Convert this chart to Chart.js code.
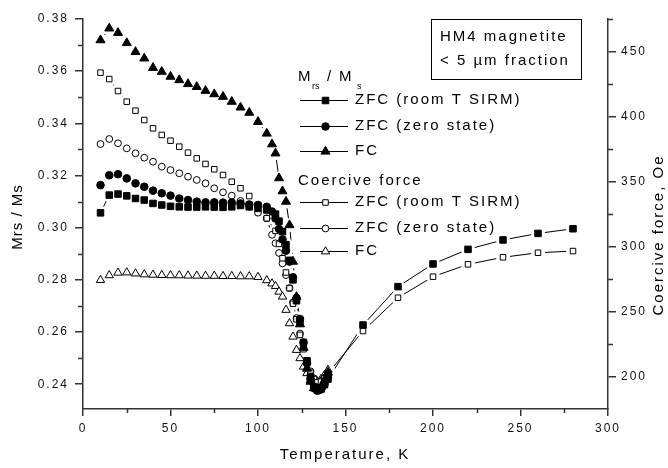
<!DOCTYPE html>
<html><head><meta charset="utf-8">
<script src="https://cdn.jsdelivr.net/npm/chart.js@4.4.1/dist/chart.umd.min.js"></script>
<style>html,body{margin:0;padding:0;background:#fff;}#wrap{width:668px;height:468px;position:relative;}</style>
</head><body><div id="wrap"><canvas id="c" width="668" height="468"></canvas></div>
<script>
const FONT = "'Liberation Sans', Arial, Helvetica, sans-serif";

// ---- data ----
const tempZfcRoom = [10,15,20,25,30,35,40,45,50,55,60,65,70,75,80,85,90,95,100,105,110,112,114,116,118,120,122,124,126,128,130,132,134,136,138,140,160,180,200,220,240,260,280];
const mrsZfcRoom = [0.3057,0.3125,0.3129,0.3122,0.3112,0.3106,0.3093,0.3087,0.3082,0.3080,0.3079,0.3079,0.3080,0.3079,0.3078,0.3080,0.3085,0.3080,0.3074,0.3068,0.3052,0.3025,0.2985,0.2935,0.2875,0.2800,0.2720,0.2640,0.2560,0.2490,0.2430,0.2390,0.2378,0.2382,0.2398,0.2420,0.2627,0.2774,0.2861,0.2917,0.2953,0.2978,0.2996];
const hcZfcRoom = [433.7,428.8,419.6,411.4,404.5,397.3,390.9,385.8,381.4,376.8,372.2,367.8,363.5,359.4,355.0,349.8,344.8,338.8,331.9,321.7,312.0,302.0,291.0,280.0,268.0,256.0,244.0,232.0,221.0,211.0,203.0,198.0,195.5,196.0,198.5,202.5,235.0,260.6,276.8,286.3,291.7,295.2,296.5];

const tempZfcZero = [10,15,20,25,30,35,40,45,50,55,60,65,70,75,80,85,90,95,100,105,108,110,112,114,116,118,120,122,124,126,128,130,132,134,136,138,140];
const mrsZfcZero = [0.3163,0.3201,0.3205,0.3189,0.3170,0.3157,0.3142,0.3132,0.3123,0.3112,0.3106,0.3100,0.3097,0.3097,0.3096,0.3096,0.3093,0.3089,0.3087,0.3080,0.3062,0.3035,0.2995,0.2955,0.2912,0.2870,0.2810,0.2730,0.2650,0.2560,0.2480,0.2420,0.2385,0.2375,0.2380,0.2400,0.2425];
const hcZfcZero = [378.8,382.7,379.4,375.5,371.7,368.3,365.2,361.4,358.8,356.3,353.7,351.2,348.6,344.8,341.7,339.1,335.0,330.6,326.0,321.7,309.0,302.5,295.0,287.0,278.0,268.0,257.0,245.0,233.0,222.0,212.0,204.0,198.5,196.0,196.5,199.0,202.0];

const tempFC = [10,15,20,25,30,35,40,45,50,55,60,65,70,75,80,85,90,95,100,105,108,110,112,114,116,118,120,122,124,126,128,130,132,134,136,138,140];
const mrsFC = [0.3719,0.3764,0.3747,0.3708,0.3674,0.3649,0.3613,0.3598,0.3579,0.3566,0.3551,0.3540,0.3525,0.3512,0.3502,0.3483,0.3461,0.3441,0.3406,0.3361,0.3320,0.3285,0.3190,0.3140,0.3100,0.3010,0.2870,0.2735,0.2630,0.2540,0.2460,0.2410,0.2385,0.2380,0.2390,0.2415,0.2445];
const hcFC = [274.2,277.8,279.8,280.0,279.2,278.5,278.2,278.0,277.8,277.8,277.6,277.5,277.4,277.4,277.2,277.2,277.0,277.0,276.5,274.0,271.5,269.5,265.2,261.4,251.2,240.9,230.6,220.4,214.0,207.5,202.5,197.3,195.5,196.0,198.0,201.0,205.0];

const xTicks = [0,50,100,150,200,250,300];
const xMinorTicks = [25,75,125,175,225,275];
const leftTicks = [0.24,0.26,0.28,0.30,0.32,0.34,0.36,0.38];
const leftMinorTicks = [0.25,0.27,0.29,0.31,0.33,0.35,0.37];
const rightTicks = [200,250,300,350,400,450];
const rightMinorTicks = [225,275,325,375,425,475];

const seriesLabels = ['ZFC (room T SIRM)','ZFC (zero state)','FC'];
const groupTitles = ['Coercive force'];
const boxLines = ['HM4 magnetite','< 5 \u00b5m fraction'];
const axisTitles = {x:'Temperature, K', left:'Mrs / Ms', right:'Coercive force, Oe'};

const AXIS = '#333';
const pts = (xs, ys) => xs.map((x,i)=>({x, y: ys[i]}));

const styles = [
  {pointStyle:'rect', pointRadius:4.6, fill:'#000'},
  {pointStyle:'circle', pointRadius:3.8, fill:'#000'},
  {pointStyle:'triangle', pointRadius:5.2, fill:'#000'},
  {pointStyle:'rect', pointRadius:3.9, fill:'#fff'},
  {pointStyle:'circle', pointRadius:3.4, fill:'#fff'},
  {pointStyle:'triangle', pointRadius:4.8, fill:'#fff'}
];

const series = [
  {data: pts(tempZfcRoom, mrsZfcRoom), axis:'y'},
  {data: pts(tempZfcZero, mrsZfcZero), axis:'y'},
  {data: pts(tempFC, mrsFC), axis:'y'},
  {data: pts(tempZfcRoom, hcZfcRoom), axis:'y1'},
  {data: pts(tempZfcZero, hcZfcZero), axis:'y1'},
  {data: pts(tempFC, hcFC), axis:'y1'}
];

const datasets = [];
// connecting lines (bottom)
series.forEach(s=>datasets.push({data:s.data, yAxisID:s.axis, borderColor:'#000', borderWidth:1, showLine:true, tension:0, pointRadius:0, pointHoverRadius:0, order:3}));
// white gaps around markers (Origin style)
series.forEach(s=>datasets.push({data:s.data, yAxisID:s.axis, showLine:false, pointStyle:'circle', pointRadius:7, pointHoverRadius:7, pointBackgroundColor:'#fff', pointBorderWidth:0, pointBorderColor:'#fff', order:2}));
// markers (top)
series.forEach((s,i)=>{ const st = styles[i]; datasets.push({data:s.data, yAxisID:s.axis, showLine:false,
  pointStyle:st.pointStyle, pointRadius:st.pointRadius, pointHoverRadius:st.pointRadius, pointBackgroundColor:st.fill,
  pointBorderColor:'#000', pointBorderWidth:1, order:1}); });

function drawMarker(ctx, st, x, y){
  ctx.fillStyle = st.fill; ctx.strokeStyle = '#000'; ctx.lineWidth = 1;
  if (Chart.helpers && Chart.helpers.drawPoint) {
    Chart.helpers.drawPoint(ctx, {pointStyle: st.pointStyle, radius: st.pointRadius, borderWidth: 1, rotation: 0}, x, y);
  }
}

const spacingPlugin = {
  id:'spacing',
  beforeDraw(chart){ chart.ctx.letterSpacing = '2px'; }
};

const extras = {
  id:'extras',
  afterDraw(chart){
    const ctx = chart.ctx;
    const sx = chart.scales.x, sy = chart.scales.y, sr = chart.scales.y1;
    const ca = chart.chartArea;
    ctx.save();
    // minor ticks
    ctx.strokeStyle = AXIS; ctx.lineWidth = 1.5;
    ctx.beginPath();
    xMinorTicks.forEach(v=>{ const p = Math.round(sx.getPixelForValue(v))+0.5; ctx.moveTo(p, ca.bottom); ctx.lineTo(p, ca.bottom+4); });
    leftMinorTicks.forEach(v=>{ const p = Math.round(sy.getPixelForValue(v))+0.5; ctx.moveTo(ca.left, p); ctx.lineTo(ca.left-5, p); });
    rightMinorTicks.forEach(v=>{ const p = Math.round(sr.getPixelForValue(v))+0.5; ctx.moveTo(ca.right, p); ctx.lineTo(ca.right+5, p); });
    ctx.stroke();

    ctx.letterSpacing = '2px';
    ctx.fillStyle = '#000';
    ctx.textBaseline = 'middle';
    // axis titles
    ctx.font = '15px ' + FONT;
    ctx.textAlign = 'center';
    ctx.fillText(axisTitles.x, 345, 455);
    ctx.save(); ctx.translate(18, 217); ctx.rotate(-Math.PI/2); ctx.letterSpacing='1px'; ctx.fillText(axisTitles.left, 0, 0); ctx.restore();
    ctx.save(); ctx.translate(659, 235); ctx.rotate(-Math.PI/2); ctx.fillText(axisTitles.right, 0, 0); ctx.restore();

    // info box
    ctx.strokeStyle = '#000'; ctx.lineWidth = 1;
    ctx.strokeRect(431.5, 19.5, 150, 60);
    ctx.textAlign = 'left';
    ctx.fillText(boxLines[0], 440, 37);
    ctx.fillText(boxLines[1], 440, 61);

    // legend header Mrs / Ms
    ctx.fillText('M', 298, 77);
    ctx.font = '9px ' + FONT; ctx.letterSpacing = '0px';
    ctx.fillText('rs', 312, 87);
    ctx.font = '15px ' + FONT; ctx.letterSpacing = '2px';
    ctx.fillText('/', 327, 77);
    ctx.fillText('M', 339, 77);
    ctx.font = '9px ' + FONT; ctx.letterSpacing = '0px';
    ctx.fillText('s', 357, 87);
    ctx.font = '15px ' + FONT; ctx.letterSpacing = '2px';
    ctx.fillText(groupTitles[0], 298, 181);

    const rows = [100, 126, 151, 202, 228, 251];
    rows.forEach((y, i)=>{
      ctx.strokeStyle = '#000'; ctx.lineWidth = 1;
      ctx.beginPath(); ctx.moveTo(300, y+0.5); ctx.lineTo(348, y+0.5); ctx.stroke();
      drawMarker(ctx, styles[i], 325.5, y+0.5);
      ctx.fillStyle = '#000';
      ctx.fillText(seriesLabels[i % 3], 355, y);
    });
    ctx.restore();
  }
};

const tickFont = {family: FONT, size: 12};
new Chart(document.getElementById('c'), {
  type:'line',
  data:{datasets},
  options:{
    responsive:false, animation:false, devicePixelRatio:1,
    layout:{padding:{top:19,left:0,right:0,bottom:0}},
    plugins:{legend:{display:false}, tooltip:{enabled:false}},
    scales:{
      x:{type:'linear', position:'bottom', min:0, max:300,
        afterBuildTicks:s=>{ s.ticks = xTicks.map(v=>({value:v})); },
        afterFit:s=>{ s.height = 59; },
        grid:{drawOnChartArea:false, drawTicks:true, tickLength:7, color:AXIS, lineWidth:1.5},
        border:{display:true, color:AXIS, width:1.5},
        ticks:{font:tickFont, color:'#111', padding:5, maxRotation:0, autoSkip:false, callback:v=>String(v)}},
      y:{type:'linear', position:'left', min:0.2305, max:0.38,
        afterBuildTicks:s=>{ s.ticks = leftTicks.map(v=>({value:v})); },
        afterFit:s=>{ s.width = 83; },
        grid:{drawOnChartArea:false, drawTicks:true, tickLength:8, color:AXIS, lineWidth:1.5},
        border:{display:true, color:AXIS, width:1.5},
        ticks:{font:tickFont, color:'#111', padding:6, autoSkip:false, callback:v=>Number(v).toFixed(2)}},
      y1:{type:'linear', position:'right', min:175, max:475,
        afterBuildTicks:s=>{ s.ticks = rightTicks.map(v=>({value:v})); },
        afterFit:s=>{ s.width = 60; },
        grid:{drawOnChartArea:false, drawTicks:true, tickLength:8, color:AXIS, lineWidth:1.5},
        border:{display:true, color:AXIS, width:1.5},
        ticks:{font:tickFont, color:'#111', padding:5, autoSkip:false, callback:v=>String(v)}}
    }
  },
  plugins:[spacingPlugin, extras]
});
</script></body></html>
